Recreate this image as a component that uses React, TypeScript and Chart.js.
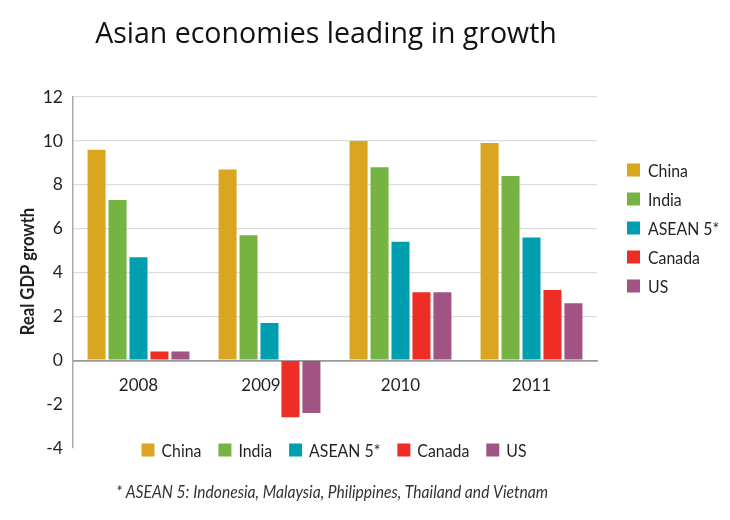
import React, { useEffect, useRef } from "react";
import { Chart, registerables } from "chart.js";

Chart.register(...registerables);

const years = ["2008", "2009", "2010", "2011"];
const seriesNames = ["China", "India", "ASEAN 5*", "Canada", "US"];
const seriesColors = ["#DAA622", "#76B343", "#009FAF", "#EE2E24", "#A15383"];
const china = [9.6, 8.7, 10.0, 9.9];
const india = [7.3, 5.7, 8.8, 8.4];
const asean5 = [4.7, 1.7, 5.4, 5.6];
const canada = [0.4, -2.6, 3.1, 3.2];
const us = [0.4, -2.4, 3.1, 2.6];
const seriesValues = [china, india, asean5, canada, us];
const yTicks = { min: -4, max: 12, step: 2 };

const titleText = "Asian economies leading in growth";
const yTitle = "Real GDP growth";
const footnote = "* ASEAN 5: Indonesia, Malaysia, Philippines, Thailand and Vietnam";

const FONT = "Lato, 'Open Sans', sans-serif";
const TEXT = "#231F20";

function squeezeText(ctx: any, text: string, x: number, y: number, sx: number) {
  ctx.save();
  ctx.translate(x, y);
  ctx.scale(sx, 1);
  ctx.fillText(text, 0, 0);
  ctx.restore();
}

const decorPlugin = {
  id: "decor",
  afterDraw(chart: any) {
    const ctx = chart.ctx;
    const ds = chart.data.datasets;
    ctx.save();
    // title
    ctx.fillStyle = "#111";
    ctx.font = "28.5px 'Open Sans', Lato, sans-serif";
    ctx.textAlign = "center";
    ctx.textBaseline = "middle";
    ctx.fillText(titleText, 326, 35);

    // y axis title
    ctx.save();
    ctx.font = "bold 19.5px " + FONT;
    ctx.fillStyle = TEXT;
    const ya = chart.chartArea;
    ctx.translate(28, (ya.top + ya.bottom) / 2 - 1);
    ctx.rotate(-Math.PI / 2);
    ctx.scale(0.85, 1);
    ctx.fillText(yTitle, 0, 0);
    ctx.restore();

    // right legend
    const sx = 0.88;
    ctx.font = "18px " + FONT;
    ctx.textAlign = "left";
    ds.forEach((d: any, i: number) => {
      const cy = 170 + i * 29;
      ctx.fillStyle = d.backgroundColor;
      ctx.fillRect(627, cy - 6.5, 13, 13);
      ctx.fillStyle = TEXT;
      squeezeText(ctx, d.label, 648, cy + 1, sx);
    });

    // bottom legend
    const sq = 13, gapSq = 7, gapItem = 17;
    const widths = ds.map((d: any) => ctx.measureText(d.label).width * sx);
    const total = widths.reduce((a: number, w: number) => a + sq + gapSq + w, 0) + gapItem * (ds.length - 1);
    let x = 334 - total / 2;
    ds.forEach((d: any, i: number) => {
      const cy = 450;
      ctx.fillStyle = d.backgroundColor;
      ctx.fillRect(x, cy - 6.5, sq, sq);
      ctx.fillStyle = TEXT;
      squeezeText(ctx, d.label, x + sq + gapSq, cy + 1, sx);
      x += sq + gapSq + widths[i] + gapItem;
    });

    // footnote
    ctx.font = "italic 17px " + FONT;
    ctx.textAlign = "center";
    ctx.fillStyle = "#333";
    squeezeText(ctx, footnote, 332, 493, 0.92);
    ctx.restore();
  },
};

export default function App() {
  const ref = useRef<HTMLCanvasElement | null>(null);
  useEffect(() => {
    if (!ref.current) return;
    const chart = new Chart(ref.current, {
      type: "bar",
      data: {
        labels: years,
        datasets: seriesNames.map((name, i) => ({
          label: name,
          data: seriesValues[i],
          backgroundColor: seriesColors[i],
          borderWidth: 0,
          categoryPercentage: 0.8,
          barPercentage: 0.86,
        })),
      },
      options: {
        animation: false,
        responsive: false,
        devicePixelRatio: 1,
        layout: { padding: { left: 0, top: 97, right: 133, bottom: 72 } },
        plugins: {
          legend: { display: false },
          title: { display: false },
          tooltip: { enabled: false },
        },
        scales: {
          x: {
            position: { y: 0 } as any,
            grid: { display: false, drawTicks: false },
            border: { display: true, color: "#9a9a9a", width: 1.5 },
            ticks: {
              font: { family: FONT, size: 17 },
              color: TEXT,
              padding: 15,
              callback: function (this: any, _v: any, i: number) {
                const hasNegative = seriesValues.some((s) => s[i] < 0);
                return hasNegative ? years[i] + "\u2002\u2002" : years[i];
              },
            },
          },
          y: {
            min: yTicks.min,
            max: yTicks.max,
            afterFit: (s: any) => {
              s.width = 73;
            },
            ticks: {
              stepSize: yTicks.step,
              font: { family: FONT, size: 17.5 },
              color: TEXT,
              padding: 10,
            },
            grid: {
              drawTicks: false,
              color: (c: any) =>
                c.tick && c.tick.value < 0 ? "rgba(0,0,0,0)" : c.tick && c.tick.value === 0 ? "#9a9a9a" : "#dddddd",
              lineWidth: (c: any) => (c.tick && c.tick.value === 0 ? 1.5 : 1.2),
            },
            border: { display: true, color: "#aaaaaa", width: 1.5 },
            title: { display: false, text: yTitle },
          },
        },
      },
      plugins: [decorPlugin],
    });
    return () => chart.destroy();
  }, []);
  return (
    <div style={{ position: "fixed", left: 0, top: 0, width: 730, height: 520, background: "#fff" }}>
      <canvas ref={ref} width={730} height={520} style={{ width: 730, height: 520, display: "block" }} />
    </div>
  );
}
